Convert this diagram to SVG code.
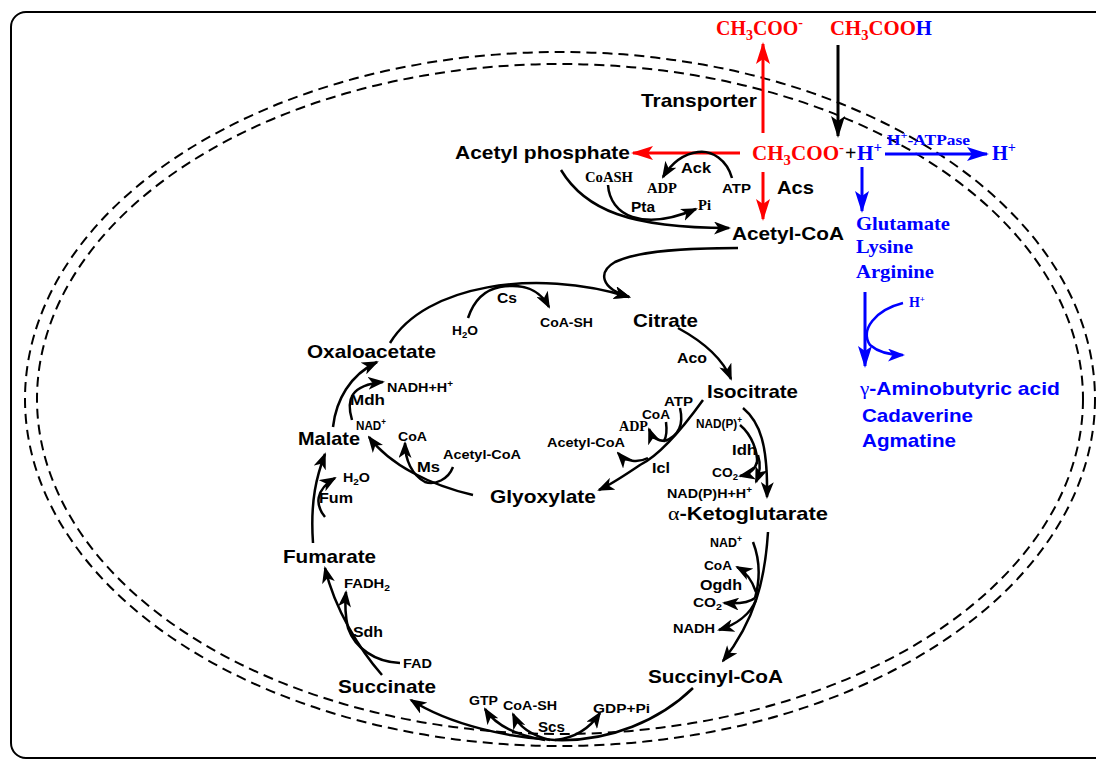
<svg xmlns="http://www.w3.org/2000/svg" width="1096" height="760" viewBox="0 0 1096 760">
  <style>
    text { font-family: "Liberation Sans", Arial, sans-serif; font-weight: bold; }
    .m { font-size: 19px; fill: #000; }
    .e { font-size: 15.5px; fill: #000; }
    .s { font-size: 13px; fill: #000; }
    .sr { font-family: "Liberation Serif", "Times New Roman", serif; font-size: 14px; fill: #000; }
    .big { font-family: "Liberation Serif", "Times New Roman", serif; font-size: 20px; }
    .bs { font-family: "Liberation Serif", "Times New Roman", serif; font-size: 19px; fill: #0000ff; }
    .bb { font-size: 18.5px; fill: #0000ff; }
    .gr { font-family: "Liberation Serif", "Times New Roman", serif; font-weight: normal; }
    .red { fill: #ff0000; }
    .blue { fill: #0000ff; }
    .blk { fill: #000; }
    .ln { fill: none; stroke: #000; stroke-width: 2.5; marker-end: url(#ah); }
    .lnp { fill: none; stroke: #000; stroke-width: 2.5; }
    .lk { fill: none; stroke: #000; stroke-width: 3; marker-end: url(#ahk); }
    .lr { fill: none; stroke: #ff0000; stroke-width: 3; marker-end: url(#ahr); }
    .lb { fill: none; stroke: #0000ff; stroke-width: 3; marker-end: url(#ahb); }
    .lbt { fill: none; stroke: #0000ff; stroke-width: 2.5; marker-end: url(#ahb2); }
    .memb { fill: none; stroke: #000; stroke-width: 2; stroke-dasharray: 10 6; }
  </style>
  <defs>
    <marker id="ah" viewBox="0 0 17 13" refX="15" refY="6.5" markerWidth="17" markerHeight="13" markerUnits="userSpaceOnUse" orient="auto">
      <path d="M0,0 L17,6.5 L0,13 L4.5,6.5 Z" fill="#000"/>
    </marker>
    <marker id="ahk" viewBox="0 0 22 14" refX="20" refY="7" markerWidth="22" markerHeight="14" markerUnits="userSpaceOnUse" orient="auto">
      <path d="M0,0 L22,7 L0,14 L5,7 Z" fill="#000"/>
    </marker>
    <marker id="ahr" viewBox="0 0 22 14" refX="20" refY="7" markerWidth="22" markerHeight="14" markerUnits="userSpaceOnUse" orient="auto">
      <path d="M0,0 L22,7 L0,14 L5,7 Z" fill="#ff0000"/>
    </marker>
    <marker id="ahb" viewBox="0 0 22 14" refX="20" refY="7" markerWidth="22" markerHeight="14" markerUnits="userSpaceOnUse" orient="auto">
      <path d="M0,0 L22,7 L0,14 L5,7 Z" fill="#0000ff"/>
    </marker>
    <marker id="ahb2" viewBox="0 0 17 13" refX="15" refY="6.5" markerWidth="17" markerHeight="13" markerUnits="userSpaceOnUse" orient="auto">
      <path d="M0,0 L17,6.5 L0,13 L4.5,6.5 Z" fill="#0000ff"/>
    </marker>
  </defs>

  <!-- frame and cell membrane -->
  <rect x="11" y="12" width="1110" height="746" rx="15" ry="15" fill="none" stroke="#000" stroke-width="2"/>
  <ellipse class="memb" cx="560" cy="399" rx="535" ry="347"/>
  <ellipse class="memb" cx="560" cy="399" rx="523" ry="335"/>

  <!-- connectors -->
  <g id="connectors">
    <!-- acetate transport -->
    <path class="lr" d="M763,133 L763,44"/>
    <path class="lk" d="M838,45 L838,136"/>
    <path class="lr" d="M740,153 L633,153"/>
    <path class="lr" d="M763,172 L763,219"/>
    <path class="lb" d="M885,154 L987,154"/>
    <path class="lb" d="M862,167 L862,211"/>
    <!-- Ack / Pta -->
    <path class="ln" d="M732,178 C727,160 712,150 698,152 C683,154 671,164 663,177"/>
    <path class="ln" d="M561,170 C585,210 630,228 729,228"/>
    <path class="ln" d="M608,185 C610,215 642,232 696,209"/>
    <!-- Acetyl-CoA into the cycle -->
    <path class="ln" d="M738,248 C690,248 640,250 615,262 C598,272 600,288 629,297"/>
    <!-- Cs -->
    <path class="ln" d="M390,343 C425,285 535,268 629,297"/>
    <path class="ln" d="M468,318 C474,300 484,290 500,287 C525,283 540,290 549,307"/>
    <!-- Aco -->
    <path class="ln" d="M678,328 C700,340 722,357 731,379"/>
    <!-- Icl -->
    <path class="ln" d="M703,400 C685,425 660,455 640,465 C625,475 612,484 599,490"/>
    <path class="lnp" d="M680,408 C684,425 678,436 665,441"/>
    <path class="lnp" d="M666,422 C667,430 667,436 664,441"/>
    <path class="ln" d="M665,441 C658,441 652,437 649,429"/>
    <path class="ln" d="M648,458 C638,463 626,462 618,453"/>
    <!-- Idh -->
    <path class="ln" d="M743,408 C760,422 768,445 767,497"/>
    <path class="lnp" d="M740,425 C752,435 758,452 757,464"/>
    <path class="ln" d="M757,462 C755,470 750,474 740,476"/>
    <path class="ln" d="M758,455 C761,465 760,472 756,482"/>
    <!-- Ogdh -->
    <path class="ln" d="M768,532 C765,580 755,620 723,661"/>
    <path class="lnp" d="M753,542 C760,560 760,580 755,598"/>
    <path class="ln" d="M756,592 C752,580 746,572 737,567"/>
    <path class="ln" d="M755,598 C750,602 738,604 724,603"/>
    <path class="ln" d="M756,600 C750,615 735,625 719,630"/>
    <!-- Scs -->
    <path class="ln" d="M693,688 C660,720 610,742 555,740 C510,738 450,725 411,700"/>
    <path class="ln" d="M555,740 C575,738 590,728 600,713"/>
    <path class="ln" d="M545,740 C515,735 495,725 485,709"/>
    <path class="ln" d="M550,740 C530,735 518,725 513,714"/>
    <!-- Sdh -->
    <path class="ln" d="M382,675 C360,650 335,610 325,568"/>
    <path class="ln" d="M400,663 C375,662 355,648 348,628 C345,615 345,602 346,592"/>
    <!-- Fum -->
    <path class="ln" d="M313,543 C310,500 317,475 325,454"/>
    <path class="ln" d="M325,517 C315,505 315,490 335,478"/>
    <!-- Mdh -->
    <path class="ln" d="M333,427 C336,400 350,375 377,362"/>
    <path class="ln" d="M352,420 C346,400 350,385 383,382"/>
    <!-- Ms -->
    <path class="ln" d="M473,495 C430,485 390,465 369,437"/>
    <path class="ln" d="M453,467 C448,480 435,485 425,482 C412,475 405,460 405,443"/>
    <!-- acid resistance -->
    <path class="lb" d="M865,292 L865,366"/>
    <path class="lbt" d="M903,303 C875,310 860,330 870,345 C878,352 890,355 903,355"/>
  </g>

  <!-- acetate species -->
  <g id="acetate-out">
    <text class="big red" x="716" y="35" textLength="87" lengthAdjust="spacingAndGlyphs">CH<tspan dy="5" font-size="14">3</tspan><tspan dy="-5">COO</tspan><tspan dy="-8" font-size="14">-</tspan></text>
  </g>
  <g id="acetic-acid">
    <text class="big red" x="830" y="35" textLength="102" lengthAdjust="spacingAndGlyphs">CH<tspan dy="5" font-size="14">3</tspan><tspan dy="-5">COO</tspan><tspan class="blue">H</tspan></text>
  </g>
  <g id="acetate-in">
    <text class="big red" x="752" y="160" textLength="92" lengthAdjust="spacingAndGlyphs">CH<tspan dy="5" font-size="14">3</tspan><tspan dy="-5">COO</tspan><tspan dy="-8" font-size="14">-</tspan></text>
    <text class="big blk" x="845" y="160">+</text>
    <text class="big blue" x="857" y="160" textLength="25" lengthAdjust="spacingAndGlyphs">H<tspan dy="-8" font-size="14">+</tspan></text>
  </g>
  <g id="proton-out">
    <text class="big blue" x="992" y="160" textLength="24" lengthAdjust="spacingAndGlyphs">H<tspan dy="-8" font-size="14">+</tspan></text>
  </g>
  <g id="atpase">
    <text class="sr blue" x="887" y="145" font-size="15" textLength="83" lengthAdjust="spacingAndGlyphs">H<tspan dy="-6" font-size="10">+</tspan><tspan dy="6">-ATPase</tspan></text>
  </g>
  <g id="transporter"><text class="m" x="641" y="107" textLength="116" lengthAdjust="spacingAndGlyphs">Transporter</text></g>

  <!-- acetate activation -->
  <g id="acetyl-phosphate"><text class="m" x="455" y="159" textLength="175" lengthAdjust="spacingAndGlyphs">Acetyl phosphate</text></g>
  <g id="ack">
    <text class="e" x="681" y="173" textLength="30" lengthAdjust="spacingAndGlyphs">Ack</text>
    <text class="sr" x="647" y="193" textLength="30" lengthAdjust="spacingAndGlyphs">ADP</text>
    <text class="s" x="722" y="193" textLength="29" lengthAdjust="spacingAndGlyphs">ATP</text>
  </g>
  <g id="pta">
    <text class="sr" x="585" y="182" textLength="48" lengthAdjust="spacingAndGlyphs">CoASH</text>
    <text class="e" x="631" y="212" textLength="24" lengthAdjust="spacingAndGlyphs">Pta</text>
    <text class="sr" x="698" y="210" textLength="13" lengthAdjust="spacingAndGlyphs">Pi</text>
  </g>
  <g id="acs"><text class="m" x="777" y="194" textLength="37" lengthAdjust="spacingAndGlyphs">Acs</text></g>
  <g id="acetyl-coa"><text class="m" x="732" y="240" textLength="112" lengthAdjust="spacingAndGlyphs">Acetyl-CoA</text></g>

  <!-- TCA and glyoxylate cycle -->
  <g id="citrate"><text class="m" x="633" y="327" textLength="65" lengthAdjust="spacingAndGlyphs">Citrate</text></g>
  <g id="cs">
    <text class="e" x="497" y="303" textLength="20" lengthAdjust="spacingAndGlyphs">Cs</text>
    <text class="s" x="452" y="335" textLength="26" lengthAdjust="spacingAndGlyphs">H<tspan dy="3" font-size="9">2</tspan><tspan dy="-3">O</tspan></text>
    <text class="s" x="540" y="327" textLength="53" lengthAdjust="spacingAndGlyphs">CoA-SH</text>
  </g>
  <g id="aco"><text class="e" x="677" y="363" textLength="30" lengthAdjust="spacingAndGlyphs">Aco</text></g>
  <g id="isocitrate"><text class="m" x="707" y="398" textLength="91" lengthAdjust="spacingAndGlyphs">Isocitrate</text></g>
  <g id="icl">
    <text class="s" x="664" y="406" textLength="29" lengthAdjust="spacingAndGlyphs">ATP</text>
    <text class="s" x="642" y="419" textLength="28" lengthAdjust="spacingAndGlyphs">CoA</text>
    <text class="sr" x="619" y="431" textLength="29" lengthAdjust="spacingAndGlyphs">ADP</text>
    <text class="s" x="547" y="447" textLength="78" lengthAdjust="spacingAndGlyphs">Acetyl-CoA</text>
    <text class="e" x="652" y="473" textLength="18" lengthAdjust="spacingAndGlyphs">Icl</text>
  </g>
  <g id="idh">
    <text class="s" x="696" y="428" textLength="46" lengthAdjust="spacingAndGlyphs">NAD(P)<tspan dy="-5" font-size="9">+</tspan></text>
    <text class="e" x="732" y="455" textLength="25" lengthAdjust="spacingAndGlyphs">Idh</text>
    <text class="s" x="712" y="477" textLength="26" lengthAdjust="spacingAndGlyphs">CO<tspan dy="3" font-size="9">2</tspan></text>
    <text class="s" x="667" y="498" textLength="85" lengthAdjust="spacingAndGlyphs">NAD(P)H+H<tspan dy="-5" font-size="9">+</tspan></text>
  </g>
  <g id="ketoglutarate"><text class="m" x="668" y="520" textLength="160" lengthAdjust="spacingAndGlyphs"><tspan class="gr">α</tspan>-Ketoglutarate</text></g>
  <g id="ogdh">
    <text class="s" x="710" y="547" textLength="32" lengthAdjust="spacingAndGlyphs">NAD<tspan dy="-5" font-size="9">+</tspan></text>
    <text class="s" x="704" y="570" textLength="28" lengthAdjust="spacingAndGlyphs">CoA</text>
    <text class="e" x="700" y="590" textLength="42" lengthAdjust="spacingAndGlyphs">Ogdh</text>
    <text class="s" x="693" y="607" textLength="29" lengthAdjust="spacingAndGlyphs">CO<tspan dy="3" font-size="9">2</tspan></text>
    <text class="s" x="673" y="633" textLength="42" lengthAdjust="spacingAndGlyphs">NADH</text>
  </g>
  <g id="succinyl-coa"><text class="m" x="648" y="683" textLength="135" lengthAdjust="spacingAndGlyphs">Succinyl-CoA</text></g>
  <g id="scs">
    <text class="s" x="469" y="705" textLength="29" lengthAdjust="spacingAndGlyphs">GTP</text>
    <text class="s" x="503" y="710" textLength="54" lengthAdjust="spacingAndGlyphs">CoA-SH</text>
    <text class="e" x="538" y="732" textLength="27" lengthAdjust="spacingAndGlyphs">Scs</text>
    <text class="s" x="593" y="713" textLength="57" lengthAdjust="spacingAndGlyphs">GDP+Pi</text>
  </g>
  <g id="succinate"><text class="m" x="338" y="693" textLength="98" lengthAdjust="spacingAndGlyphs">Succinate</text></g>
  <g id="sdh">
    <text class="s" x="344" y="588" textLength="46" lengthAdjust="spacingAndGlyphs">FADH<tspan dy="3" font-size="9">2</tspan></text>
    <text class="e" x="353" y="637" textLength="30" lengthAdjust="spacingAndGlyphs">Sdh</text>
    <text class="s" x="403" y="668" textLength="29" lengthAdjust="spacingAndGlyphs">FAD</text>
  </g>
  <g id="fumarate"><text class="m" x="283" y="563" textLength="93" lengthAdjust="spacingAndGlyphs">Fumarate</text></g>
  <g id="fum">
    <text class="s" x="343" y="482" textLength="27" lengthAdjust="spacingAndGlyphs">H<tspan dy="3" font-size="9">2</tspan><tspan dy="-3">O</tspan></text>
    <text class="e" x="319" y="503" textLength="34" lengthAdjust="spacingAndGlyphs">Fum</text>
  </g>
  <g id="malate"><text class="m" x="298" y="445" textLength="62" lengthAdjust="spacingAndGlyphs">Malate</text></g>
  <g id="mdh">
    <text class="s" x="387" y="392" textLength="66" lengthAdjust="spacingAndGlyphs">NADH+H<tspan dy="-5" font-size="9">+</tspan></text>
    <text class="e" x="350" y="405" textLength="35" lengthAdjust="spacingAndGlyphs">Mdh</text>
    <text class="s" x="356" y="430" textLength="30" lengthAdjust="spacingAndGlyphs">NAD<tspan dy="-5" font-size="9">+</tspan></text>
  </g>
  <g id="oxaloacetate"><text class="m" x="307" y="358" textLength="129" lengthAdjust="spacingAndGlyphs">Oxaloacetate</text></g>
  <g id="ms">
    <text class="s" x="398" y="441" textLength="29" lengthAdjust="spacingAndGlyphs">CoA</text>
    <text class="s" x="443" y="459" textLength="78" lengthAdjust="spacingAndGlyphs">Acetyl-CoA</text>
    <text class="e" x="417" y="472" textLength="23" lengthAdjust="spacingAndGlyphs">Ms</text>
  </g>
  <g id="glyoxylate"><text class="m" x="490" y="503" textLength="106" lengthAdjust="spacingAndGlyphs">Glyoxylate</text></g>

  <!-- amino acid decarboxylation -->
  <g id="amino-acids">
    <text class="bs" x="856" y="230" textLength="94" lengthAdjust="spacingAndGlyphs">Glutamate</text>
    <text class="bs" x="856" y="253" textLength="57" lengthAdjust="spacingAndGlyphs">Lysine</text>
    <text class="bs" x="856" y="278" textLength="78" lengthAdjust="spacingAndGlyphs">Arginine</text>
  </g>
  <g id="proton-consumed">
    <text class="sr blue" x="909" y="307" textLength="16" lengthAdjust="spacingAndGlyphs">H<tspan dy="-5" font-size="9">+</tspan></text>
  </g>
  <g id="amines">
    <text class="bb" x="860" y="395" textLength="200" lengthAdjust="spacingAndGlyphs"><tspan class="gr">γ</tspan>-Aminobutyric acid</text>
    <text class="bb" x="862" y="422" textLength="111" lengthAdjust="spacingAndGlyphs">Cadaverine</text>
    <text class="bb" x="862" y="447" textLength="94" lengthAdjust="spacingAndGlyphs">Agmatine</text>
  </g>
</svg>
